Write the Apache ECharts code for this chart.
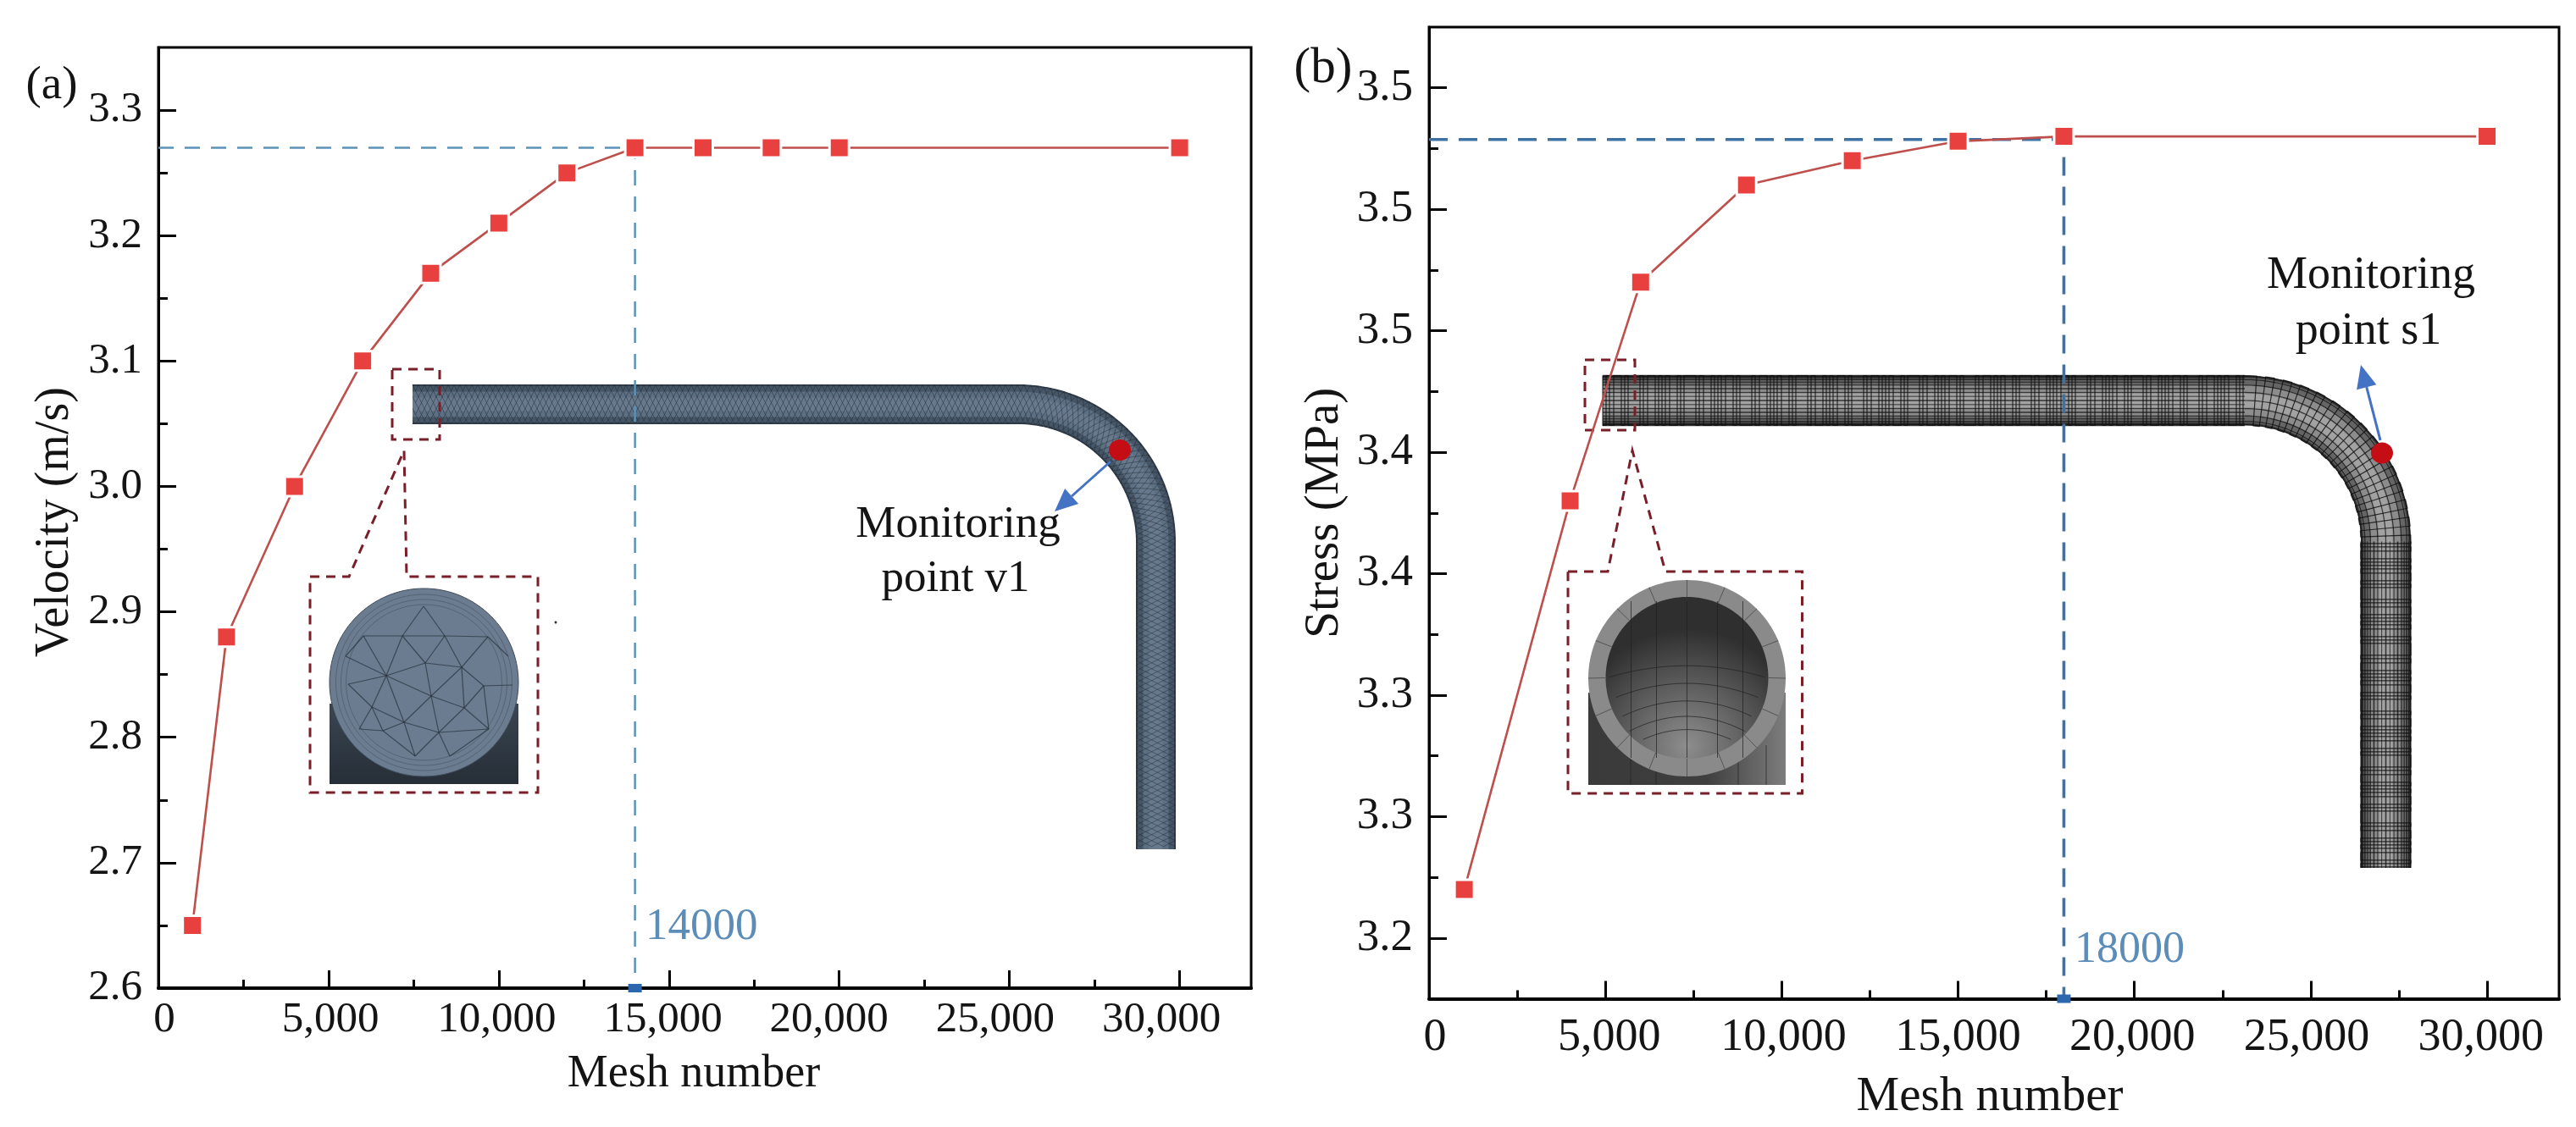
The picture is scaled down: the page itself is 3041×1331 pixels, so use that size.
<!DOCTYPE html>
<html><head><meta charset="utf-8">
<style>html,body{margin:0;padding:0;background:#fff}#c{width:3041px;height:1331px}</style>
<script src="https://cdn.jsdelivr.net/npm/echarts@6/dist/echarts.min.js"></script>
</head><body><div id="c"></div>
<script>
// ---------- data ----------
const meshA = [1000, 2000, 4000, 6000, 8000, 10000, 12000, 14000, 16000, 18000, 20000, 30000];
const velocity = [2.65, 2.88, 3.0, 3.1, 3.17, 3.21, 3.25, 3.27, 3.27, 3.27, 3.27, 3.27];
const meshB = [1000, 4000, 6000, 9000, 12000, 15000, 18000, 30000];
const stress = [3.22, 3.38, 3.47, 3.51, 3.52, 3.528, 3.53, 3.53];
const guideXA = [0, 14000, 14000];
const guideYA = [3.27, 3.27, 2.6];
const guideXB = [0, 18000, 18000];
const guideYB = [3.5287, 3.5287, 3.175];
const xTicks = [0, 5000, 10000, 15000, 20000, 25000, 30000];
const xMinor = [2500, 7500, 12500, 17500, 22500, 27500];
const yTicksA = [2.6, 2.7, 2.8, 2.9, 3.0, 3.1, 3.2, 3.3];
const yMinorA = [2.65, 2.75, 2.85, 2.95, 3.05, 3.15, 3.25];
const yTicksB = [3.2, 3.25, 3.3, 3.35, 3.4, 3.45, 3.5, 3.55];
const yTickLabelsB = ['3.2', '3.3', '3.3', '3.4', '3.4', '3.5', '3.5', '3.5'];
const yMinorB = [3.225, 3.275, 3.325, 3.375, 3.425, 3.475, 3.525];

// ---------- styles ----------
const FONT = '"Liberation Serif","Times New Roman",serif';
const INK = '#141414', RED = '#bd4f4c', MARK = '#e8403f', SQ = '#2b66ae';
const zip = (a, b) => a.map((v, i) => [v, b[i]]);
const fmtK = v => Number(v).toLocaleString('en-US');

function xAxes(grid, min, max, labelMin, labelMax, fs, margin, name, nameFs, gap, pad) {
  return [
    { gridIndex: grid, type: 'value', position: 'bottom', min, max,
      axisLine: { onZero: false, lineStyle: { color: '#000', width: 4 } },
      axisTick: { show: true, inside: true, length: 21, customValues: xTicks, lineStyle: { color: '#000', width: 3 } },
      axisLabel: { show: false }, splitLine: { show: false },
      name, nameLocation: 'middle', nameGap: gap,
      nameTextStyle: { fontFamily: FONT, fontSize: nameFs, color: INK, padding: pad } },
    { gridIndex: grid, type: 'value', position: 'bottom', min, max,
      axisLine: { show: false }, splitLine: { show: false }, axisLabel: { show: false },
      axisTick: { show: true, inside: true, length: 10, customValues: xMinor, lineStyle: { color: '#000', width: 3 } } },
    { gridIndex: grid, type: 'value', position: 'bottom', min: labelMin, max: labelMax,
      axisLine: { show: false }, splitLine: { show: false }, axisTick: { show: false },
      axisLabel: { show: true, customValues: xTicks, formatter: fmtK, fontFamily: FONT, fontSize: fs, color: INK, margin, hideOverlap: false } }
  ];
}
function yAxes(grid, min, max, ticks, minor, fmt, fs, name, nameFs, gap, pad) {
  return [
    { gridIndex: grid, type: 'value', position: 'left', min, max,
      axisLine: { onZero: false, lineStyle: { color: '#000', width: 3 } },
      axisTick: { show: true, inside: true, length: 21, customValues: ticks, lineStyle: { color: '#000', width: 3 } },
      axisLabel: { show: true, customValues: ticks, formatter: fmt, fontFamily: FONT, fontSize: fs, color: INK, margin: 19 },
      splitLine: { show: false },
      name, nameLocation: 'middle', nameGap: gap, nameRotate: 90,
      nameTextStyle: { fontFamily: FONT, fontSize: nameFs, color: INK, padding: pad } },
    { gridIndex: grid, type: 'value', position: 'left', min, max,
      axisLine: { show: false }, splitLine: { show: false }, axisLabel: { show: false },
      axisTick: { show: true, inside: true, length: 11, customValues: minor, lineStyle: { color: '#000', width: 3 } } }
  ];
}
function seriesFor(xIdx, yIdx, xs, ys, gx, gy, guideStyle, sqX, sqY) {
  return [
    { type: 'line', xAxisIndex: xIdx, yAxisIndex: yIdx, data: zip(gx, gy), symbol: 'none', silent: true, z: 3,
      clip: false, lineStyle: guideStyle },
    { type: 'line', xAxisIndex: xIdx, yAxisIndex: yIdx, data: zip(xs, ys), symbol: 'rect', symbolSize: 23, z: 4,
      clip: false, lineStyle: { color: RED, width: 2.6 },
      itemStyle: { color: MARK, borderColor: '#fff', borderWidth: 3 } },
    { type: 'scatter', xAxisIndex: xIdx, yAxisIndex: yIdx, data: [[sqX, sqY]], symbol: 'rect', symbolSize: [16, 10], z: 20,
      clip: false, itemStyle: { color: SQ, opacity: 1 } }
  ];
}

// ---------- illustrations (inset pipes, pixel space) ----------
function tube(g) {
  const L1 = g.xEnd - g.x0, LA = g.R * Math.PI / 2, L2 = g.yEnd - (g.yc + g.R);
  const total = L1 + LA + L2;
  const pt = (s, d) => {
    if (s <= L1) return [g.x0 + s, g.yc + d];
    if (s <= L1 + LA) {
      const t = (s - L1) / g.R, r = g.R - d;
      return [g.xEnd + r * Math.sin(t), g.yc + g.R - r * Math.cos(t)];
    }
    return [g.xEnd + g.R - d, g.yc + g.R + (s - L1 - LA)];
  };
  return { pt, total, L1, LA };
}
function pline(points, stroke, lineWidth, z, extra) {
  return { type: 'polyline', silent: true, z: z || 1, shape: { points },
    style: Object.assign({ stroke, lineWidth, fill: null, lineJoin: 'round' }, extra || {}) };
}
function span(t, d, a, b) { const p = []; for (let s = a; s < b; s += 6) p.push(t.pt(s, d || 0)); p.push(t.pt(b, d || 0)); return p; }

function pipeA() {
  const g = { x0: 487, xEnd: 1202, yc: 477.5, R: 162.5, yEnd: 1003 }, t = tube(g), out = [];
  const c = span(t, 0, 0, t.total);
  [[47, '#2f3b48'], [43, '#465666'], [30, '#5c6f83'], [16, '#68798d']].forEach(a => out.push(pline(c, a[1], a[0])));
  const rows = [-23, -16, -9, -2, 5, 12, 19, 23];
  for (let r = 0; r < rows.length - 1; r++) {
    const p = []; let up = true;
    for (let s = r % 2 ? 3.5 : 0; s <= t.total; s += 3.5) { p.push(t.pt(s, up ? rows[r] : rows[r + 1])); up = !up; }
    out.push(pline(p, '#1c252e', 1, 1, { opacity: 0.45 }));
  }
  return out;
}
function pipeB() {
  const g = { x0: 1892, xEnd: 2650, yc: 473, R: 166.5, yEnd: 1025 }, t = tube(g), out = [];
  const c = span(t, 0, 0, t.total);
  [[59, '#3a3a3a'], [53, '#656565'], [36, '#8c8c8c'], [16, '#a2a2a2']].forEach(a => out.push(pline(c, a[1], a[0])));
  for (let k = -9; k <= 9; k++) {
    const d = 29.5 * Math.sin(k * Math.PI / 19), w = k % 3 === 0 ? 1.6 : 1;
    out.push(pline(span(t, d, 0, t.L1), '#111', w, 1, { opacity: 0.75 }));
    out.push(pline(span(t, d, t.L1 + t.LA, t.total), '#111', w, 1, { opacity: 0.75 }));
    if (k % 2 === 0) out.push(pline(span(t, d, t.L1, t.L1 + t.LA), '#111', 1.2, 1, { opacity: 0.75 }));
  }
  const gaps = [4, 4, 5, 9, 4, 4, 14, 4, 5, 9, 4], p = [];
  let s = 0, i = 0, side = -29.5;
  while (s < t.total) {
    p.push(t.pt(s, side)); side = -side; p.push(t.pt(s, side));
    const inArc = s > t.L1 && s < t.L1 + t.LA;
    s += inArc ? 9 : gaps[i++ % gaps.length];
  }
  out.push(pline(p, '#0c0c0c', 1.2, 1, { opacity: 0.8 }));
  return out;
}
function dashed(points, w) {
  return { type: 'polygon', silent: true, z: 2, shape: { points },
    style: { fill: null, stroke: '#7a1e2a', lineWidth: w || 3, lineDash: [11, 8] } };
}
function seg(a, b, col, w, op) { return { type: 'line', silent: true, z: 1, shape: { x1: a[0], y1: a[1], x2: b[0], y2: b[1] }, style: { stroke: col, lineWidth: w, opacity: op == null ? 1 : op } }; }
function rect(x, y, w, h, fill, stroke) { return { type: 'rect', silent: true, z: 1, shape: { x, y, width: w, height: h }, style: { fill, stroke: stroke || null } }; }
function ell(cx, cy, rx, ry, style) { return { type: 'ellipse', silent: true, z: 1, shape: { cx, cy, rx, ry }, style }; }

function insetA() {
  const out = [];
  out.push(rect(389, 831, 223, 95, { type: 'linear', x: 0, y: 0, x2: 0, y2: 1, colorStops: [{ offset: 0, color: '#3a4652' }, { offset: 1, color: '#262e37' }] }));
  out.push(ell(500.5, 806, 111.5, 111, { fill: '#6b7c90', stroke: '#3d4a58', lineWidth: 1 }));
  [104, 98, 92].forEach(r => out.push(ell(500.5, 806, r, r, { fill: null, stroke: '#2a3440', lineWidth: 1, opacity: 0.35 })));
  const N = { A: [475, 751], B: [525, 751], C: [500, 716], D: [502, 783], E: [456, 798], F: [545, 788], G: [509, 822], H: [439, 835], I: [477, 853], J: [548, 836], K: [518, 865], L: [429, 751], M: [576, 752], O: [600, 775], P: [411, 808], Q: [571, 810], R: [605, 809], S: [424, 861], T: [452, 863], U: [490, 893], V: [531, 893], W: [577, 861], X: [408, 775] };
  const E = ['AB', 'AC', 'BC', 'AL', 'BM', 'AD', 'BD', 'AE', 'BF', 'DE', 'DF', 'DG', 'EG', 'FG', 'EH', 'EI', 'GI', 'GK', 'GJ', 'FJ', 'HI', 'IK', 'JK', 'HS', 'HT', 'IT', 'IU', 'KU', 'KV', 'JW', 'JQ', 'FQ', 'MF', 'MO', 'QR', 'QW', 'LX', 'LE', 'XE', 'PE', 'PH', 'TU', 'VW', 'KW', 'TS'];
  E.forEach(e => out.push(seg(N[e[0]], N[e[1]], '#26303b', 1.2, 0.7)));
  out.push(dashed([[366, 681], [412, 681], [477, 532], [480, 681], [635, 681], [635, 936], [366, 936]]));
  out.push(dashed([[463, 436], [519, 436], [519, 519], [463, 519]]));
  out.push(ell(656, 735, 1.5, 1.5, { fill: '#333' }));
  return out;
}
function insetB() {
  const out = [], cx = 1991.5;
  out.push(rect(1875, 818, 233, 109, { type: 'linear', x: 0, y: 0, x2: 1, y2: 0, colorStops: [{ offset: 0, color: '#3a3a3a' }, { offset: 0.6, color: '#3f3f3f' }, { offset: 1, color: '#7d7d7d' }] }));
  [1925, 1955, 2052, 2085].forEach(x => out.push(seg([x, 880], [x, 927], '#222', 1, 0.7)));
  out.push(ell(cx, 801, 116.5, 116, { fill: '#8a8a8a' }));
  out.push(ell(cx, 800.5, 96, 95.5, { fill: { type: 'radial', x: 0.5, y: 0.92, r: 0.72, colorStops: [{ offset: 0, color: '#8d8d8d' }, { offset: 0.5, color: '#5f5f5f' }, { offset: 1, color: '#2f2f2f' }] } }));
  [-66, -36, 0, 36, 66].forEach(dx => out.push(seg([cx + dx, 710], [cx + dx, 895], '#1f1f1f', 1, 0.7)));
  [0.34, 0.5, 0.66, 0.8, 0.92].forEach(f => {
    const p = [], y0 = 720 + f * 170;
    for (let x = -92; x <= 92; x += 8) p.push([cx + x, y0 - 40 * f * (1 - (x / 92) * (x / 92)) + 22]);
    out.push(pline(p.filter(q => Math.hypot(q[0] - cx, q[1] - 800.5) < 95), '#1f1f1f', 1, 1, { opacity: 0.7 }));
  });
  for (let k = 0; k < 16; k++) {
    const a = k * Math.PI / 8;
    out.push(seg([cx + 96 * Math.cos(a), 800.5 + 95.5 * Math.sin(a)], [cx + 116.5 * Math.cos(a), 801 + 116 * Math.sin(a)], '#555', 1));
  }
  out.push(dashed([[1851, 675], [1898, 675], [1927, 532], [1966, 675], [2127.5, 675], [2127.5, 937], [1851, 937]]));
  out.push(dashed([[1871, 425], [1930, 425], [1930, 508], [1871, 508]]));
  return out;
}
function arrow(a, b, col) {
  const dx = b[0] - a[0], dy = b[1] - a[1], L = Math.hypot(dx, dy), ux = dx / L, uy = dy / L, h = 27, w = 12;
  const base = [b[0] - ux * h, b[1] - uy * h];
  return [seg(a, base, col, 3),
    { type: 'polygon', silent: true, z: 1, shape: { points: [b, [base[0] - uy * w, base[1] + ux * w], [base[0] + uy * w, base[1] - ux * w]] }, style: { fill: col } }];
}
function txt(text, x, y, size, color, align) {
  return { type: 'text', silent: true, z: 6, x, y,
    style: { text, fontFamily: FONT, fontSize: size, fill: color || INK, align: align || 'center', verticalAlign: 'middle', lineHeight: 65 } };
}

const graphics = [].concat(
  pipeA(), insetA(), arrow([1311, 545], [1245, 604], '#4472c4'),
  [ell(1322, 531.5, 13, 12.5, { fill: '#c40d15' })],
  pipeB(), insetB(), arrow([2810, 520], [2787, 431], '#4472c4'),
  [ell(2812, 535, 13, 12.5, { fill: '#c40d15' })],
  [txt('(a)', 61, 102, 55), txt('(b)', 1562, 81, 59),
   txt('Monitoring', 1131, 620, 53), txt('point v1', 1128, 684, 53),
   txt('Monitoring', 2799, 326, 54), txt('point s1', 2796, 392, 54),
   txt('14000', 762, 1095, 53, '#5b8db8', 'left'), txt('18000', 2449, 1122, 52, '#5b8db8', 'left')]
);

const option = {
  animation: false,
  backgroundColor: '#fff',
  grid: [
    { left: 187, top: 56, width: 1290, height: 1111, show: true, backgroundColor: '#fff', borderColor: '#000', borderWidth: 3, containLabel: false, outerBoundsMode: 'none' },
    { left: 1687, top: 32, width: 1334, height: 1147.5, show: true, backgroundColor: '#fff', borderColor: '#000', borderWidth: 3, containLabel: false, outerBoundsMode: 'none' }
  ],
  xAxis: [].concat(
    xAxes(0, 0, 32100, -178, 32700, 51, 12, 'Mesh number', 54, 75, [0, 26, 0, 0]),
    xAxes(1, 0, 32040, -170, 32240, 54, 19, 'Mesh number', 57, 88, [0, 10, 0, 0])
  ),
  yAxis: [].concat(
    yAxes(0, 2.6, 3.35, yTicksA, yMinorA, v => Number(v).toFixed(1), 51, 'Velocity (m/s)', 56, 94, [0, 10, 0, 0]),
    yAxes(1, 3.175, 3.575, yTicksB, yMinorB, v => yTickLabelsB[Math.round((v - yTicksB[0]) / 0.05)], 53, 'Stress (MPa)', 57, 94, [0, 0, 0, 0])
  ),
  series: [].concat(
    seriesFor(0, 0, meshA, velocity, guideXA, guideYA, { color: '#5b93b8', width: 2.5, type: [18, 13] }, 14000, 2.6),
    seriesFor(3, 2, meshB, stress, guideXB, guideYB, { color: '#3f72a4', width: 3.6, type: [22, 13] }, 18000, 3.175)
  ),
  graphic: { elements: graphics }
};
const chart = echarts.init(document.getElementById('c'), null, { renderer: 'canvas', width: 3041, height: 1331 });
chart.setOption(option);
</script></body></html>
